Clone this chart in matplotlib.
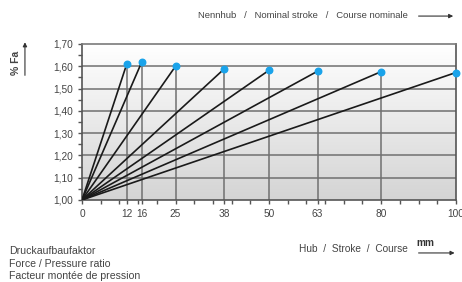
import numpy as np
import matplotlib.pyplot as plt
from matplotlib.ticker import MultipleLocator
from matplotlib.colors import LinearSegmentedColormap

stroke = [12, 16, 25, 38, 50, 63, 80, 100]
ratio = [1.612, 1.62, 1.60, 1.588, 1.582, 1.578, 1.576, 1.572]
y_ticks = [1.0, 1.1, 1.2, 1.3, 1.4, 1.5, 1.6, 1.7]
y_labels = ["1,00", "1,10", "1,20", "1,30", "1,40", "1,50", "1,60", "1,70"]
x_ticks = [0, 12, 16, 25, 38, 50, 63, 80, 100]

plt.rcParams['font.family'] = ['Liberation Sans', 'DejaVu Sans']
txt = '#444444'
arrow = dict(arrowstyle='-|>', color='#333333', lw=0.8, mutation_scale=6)

fig = plt.figure(figsize=(4.62, 2.82), dpi=100)
ax = fig.add_axes([0.1775, 0.291, 0.8095, 0.553])
ax.set_xlim(0, 100)
ax.set_ylim(1.0, 1.7)

# gradient background, white at top to light grey at the bottom
cmap = LinearSegmentedColormap.from_list('bg', ['#ffffff', '#d4d4d4'])
grad = np.linspace(0, 1, 256).reshape(-1, 1)
ax.imshow(grad, extent=[0, 100, 1.0, 1.7], aspect='auto', cmap=cmap,
          origin='upper', zorder=0)

for yt in y_ticks[1:-1]:
    ax.axhline(yt, color='#707070', lw=1.1, zorder=1)
for xs, r in zip(stroke[:-1], ratio[:-1]):
    ax.plot([xs, xs], [1.0, r], color='#707070', lw=1.1, zorder=1)

for xs, r in zip(stroke, ratio):
    ax.plot([0, xs], [1.0, r], color='#1a1a1a', lw=1.2, zorder=3)
ax.scatter(stroke, ratio, s=22, color='#1aa3ea', zorder=4, clip_on=False)

for s in ax.spines.values():
    s.set_color('#7a7a7a')
    s.set_linewidth(1.2)
ax.spines['left'].set_color('#555555')
ax.spines['bottom'].set_color('#555555')
ax.spines['right'].set_color('#555555')

ax.set_yticks(y_ticks)
ax.set_yticklabels(y_labels)
ax.yaxis.set_minor_locator(MultipleLocator(0.05))
ax.set_xticks(x_ticks)
ax.set_xticklabels([str(v) for v in x_ticks])
ax.xaxis.set_minor_locator(MultipleLocator(5))
ax.tick_params(axis='both', which='major', labelsize=7.3, labelcolor=txt,
               color='#555555', length=3, width=1)
ax.tick_params(axis='both', which='minor', color='#555555', length=3, width=1)
ax.tick_params(axis='x', pad=3.5)

# axis annotations
fig.text(0.035, 0.777, '% Fa', rotation=90, fontsize=7.5, fontweight='bold',
         color=txt, ha='center', va='center')
ax.annotate('', xy=(0.054, 0.86), xytext=(0.054, 0.723),
            xycoords='figure fraction', arrowprops=arrow)
fig.text(0.883, 0.945, 'Nennhub   /   Nominal stroke   /   Course nominale',
         fontsize=6.8, color=txt, ha='right', va='center')
ax.annotate('', xy=(0.987, 0.943), xytext=(0.9, 0.943),
            xycoords='figure fraction', arrowprops=arrow)
fig.text(0.883, 0.117, 'Hub  /  Stroke  /  Course', fontsize=7.3, color=txt,
         ha='right', va='center')
fig.text(0.902, 0.137, 'mm', fontsize=7.3, fontweight='bold', color='#333333',
         ha='left', va='center')
ax.annotate('', xy=(0.99, 0.103), xytext=(0.9, 0.103),
            xycoords='figure fraction', arrowprops=arrow)
fig.text(0.02, 0.11, 'Druckaufbaufaktor', fontsize=7.6, color=txt, va='center')
fig.text(0.02, 0.065, 'Force / Pressure ratio', fontsize=7.6, color=txt,
         va='center')
fig.text(0.02, 0.022, 'Facteur montée de pression', fontsize=7.6, color=txt,
         va='center')

fig.savefig('out.png', dpi=100)
